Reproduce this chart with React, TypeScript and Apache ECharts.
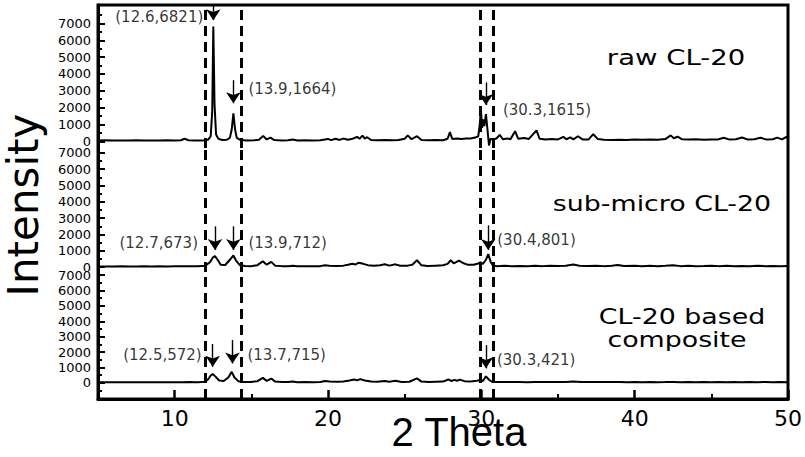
import React, { useEffect, useRef } from 'react';
import * as echarts from 'echarts';

// 2θ tick values
const X_TICKS = [10, 20, 30, 40, 50];
const X_MINOR = [15, 25, 35, 45];
const Y_TICKS = [0, 1000, 2000, 3000, 4000, 5000, 6000, 7000];
const DASH_X = [12.0, 14.37, 29.93, 30.8];

// [2θ, intensity]
const rawCL20 = [
  [5.0, 40], [5.5, 55], [6.0, 45], [6.5, 50], [7.0, 40], [7.5, 55], [8.0, 45], [8.5, 50], [9.0, 40], [9.5, 55],
  [10.0, 45], [10.4, 60], [10.65, 150], [10.9, 60], [11.3, 45], [11.7, 50], [12.0, 60], [12.2, 110], [12.35, 300],
  [12.45, 1800], [12.52, 6821], [12.6, 2200], [12.7, 400], [12.85, 150], [13.1, 80], [13.4, 90], [13.6, 200],
  [13.72, 700], [13.83, 1664], [13.94, 700], [14.05, 200], [14.3, 70], [14.7, 50], [15.2, 60], [15.5, 90],
  [15.77, 320], [16.0, 110], [16.25, 220], [16.5, 70], [17.0, 50], [17.4, 60], [17.7, 110], [18.0, 50], [18.5, 55],
  [19.0, 45], [19.5, 60], [20.0, 140], [20.2, 70], [20.5, 150], [20.75, 80], [21.0, 160], [21.3, 90], [21.6, 150],
  [21.9, 260], [22.05, 150], [22.25, 330], [22.4, 160], [22.55, 240], [22.8, 80], [23.2, 60], [23.7, 80], [24.2, 60],
  [24.6, 70], [25.0, 150], [25.2, 350], [25.45, 120], [25.8, 300], [26.1, 80], [26.6, 60], [27.0, 70], [27.5, 60],
  [27.8, 150], [27.95, 550], [28.1, 140], [28.4, 160], [28.7, 130], [29.0, 170], [29.3, 160], [29.6, 220],
  [29.8, 300], [29.9, 1000], [29.97, 1900], [30.05, 800], [30.12, 1300], [30.2, 900], [30.3, 1615], [30.4, 700],
  [30.5, -250], [30.6, 150], [30.8, 100], [31.0, 180], [31.2, 380], [31.4, 120], [31.7, 170], [31.9, 120],
  [32.2, 600], [32.4, 150], [32.8, 200], [33.1, 140], [33.6, 650], [33.8, 150], [34.2, 100], [34.6, 130],
  [35.0, 110], [35.35, 260], [35.55, 120], [35.8, 230], [36.0, 110], [36.3, 300], [36.6, 110], [37.0, 110],
  [37.3, 420], [37.6, 130], [38.0, 90], [38.5, 80], [39.0, 90], [39.5, 80], [40.0, 100], [40.5, 90], [41.0, 110],
  [41.5, 90], [42.0, 130], [42.35, 350], [42.55, 180], [42.8, 270], [43.1, 120], [43.5, 100], [44.0, 120],
  [44.5, 90], [45.0, 110], [45.4, 100], [45.8, 210], [46.2, 100], [46.6, 120], [47.0, 220], [47.4, 100],
  [47.8, 120], [48.2, 210], [48.6, 100], [49.0, 120], [49.3, 220], [49.6, 110], [49.9, 260], [50.0, 120],
];

const subMicroCL20 = [
  [5.0, 30], [5.5, 40], [6.0, 35], [6.5, 45], [7.0, 30], [7.5, 40], [8.0, 50], [8.5, 35], [9.0, 45], [9.5, 40],
  [10.0, 55], [10.5, 50], [11.0, 60], [11.5, 50], [12.0, 90], [12.3, 300], [12.5, 600], [12.63, 673], [12.8, 450],
  [13.0, 150], [13.3, 130], [13.6, 450], [13.83, 712], [14.0, 400], [14.25, 120], [14.6, 70], [15.0, 60],
  [15.4, 120], [15.75, 360], [16.0, 150], [16.3, 320], [16.55, 90], [17.0, 60], [17.4, 50], [17.7, 90], [18.0, 50],
  [18.5, 60], [19.0, 45], [19.5, 60], [19.8, 110], [20.1, 90], [20.5, 70], [21.0, 90], [21.3, 140], [21.6, 210],
  [21.8, 160], [22.0, 270], [22.3, 200], [22.6, 120], [23.0, 90], [23.4, 110], [23.7, 170], [24.0, 90],
  [24.4, 170], [24.7, 80], [25.2, 90], [25.5, 150], [25.8, 420], [26.1, 110], [26.5, 70], [27.0, 90], [27.5, 110],
  [27.8, 200], [28.0, 420], [28.2, 230], [28.35, 300], [28.55, 400], [28.8, 250], [29.1, 150], [29.5, 140],
  [29.8, 220], [29.95, 300], [30.1, 200], [30.3, 450], [30.45, 801], [30.6, 350], [30.75, 100], [31.0, 60],
  [31.5, 80], [32.0, 60], [32.5, 70], [33.0, 55], [33.5, 80], [34.0, 60], [34.5, 90], [35.0, 70], [35.5, 80],
  [36.0, 160], [36.4, 80], [37.0, 70], [37.5, 90], [38.0, 60], [38.5, 80], [38.9, 130], [39.3, 70], [40.0, 80],
  [40.5, 60], [41.0, 80], [41.5, 60], [42.0, 80], [42.5, 110], [43.0, 60], [43.5, 80], [44.0, 60], [44.5, 70],
  [45.0, 90], [45.5, 60], [46.0, 80], [46.5, 60], [47.0, 70], [47.5, 60], [48.0, 80], [48.5, 60], [49.0, 70],
  [49.5, 60], [50.0, 70],
];

const composite = [
  [5.0, 30], [5.5, 35], [6.0, 30], [6.5, 35], [7.0, 30], [7.5, 40], [8.0, 35], [8.5, 40], [9.0, 35], [9.5, 40],
  [10.0, 45], [10.5, 40], [11.0, 50], [11.5, 45], [12.0, 70], [12.2, 250], [12.35, 480], [12.48, 572], [12.65, 420],
  [12.9, 150], [13.2, 120], [13.5, 350], [13.72, 715], [13.9, 350], [14.15, 110], [14.5, 60], [15.0, 60],
  [15.4, 110], [15.75, 320], [16.0, 130], [16.3, 280], [16.55, 80], [17.0, 50], [17.4, 50], [17.7, 90], [18.0, 45],
  [18.5, 50], [19.0, 45], [19.5, 50], [19.8, 120], [20.1, 90], [20.6, 70], [21.0, 90], [21.4, 150], [21.7, 220],
  [21.9, 160], [22.1, 240], [22.4, 150], [22.8, 80], [23.2, 70], [23.7, 120], [24.0, 70], [24.4, 130], [24.8, 60],
  [25.3, 70], [25.8, 290], [26.1, 80], [26.6, 60], [27.0, 70], [27.5, 80], [27.85, 220], [28.05, 120],
  [28.25, 190], [28.45, 140], [28.6, 210], [28.9, 110], [29.3, 90], [29.7, 130], [29.95, 180], [30.1, 120],
  [30.3, 421], [30.5, 200], [30.7, 70], [31.0, 50], [31.5, 60], [32.0, 50], [32.5, 55], [33.0, 45], [33.5, 55],
  [34.0, 50], [34.5, 55], [35.0, 50], [35.5, 60], [36.0, 90], [36.5, 55], [37.0, 50], [37.5, 55], [38.0, 50],
  [38.5, 55], [39.0, 50], [39.5, 45], [40.0, 50], [40.5, 45], [41.0, 50], [41.5, 45], [42.0, 50], [42.5, 60],
  [43.0, 45], [43.5, 50], [44.0, 45], [44.5, 50], [45.0, 45], [45.5, 50], [46.0, 45], [46.5, 50], [47.0, 45],
  [47.5, 50], [48.0, 45], [48.5, 50], [49.0, 45], [49.5, 50], [50.0, 45],
];

// peak annotations: label, arrow x, arrow top / tip and label height (intensity units)
const rawMarks = [
  { text: '(12.6,6821)', x: 12.52, top: 8100, tip: 7200, ly: 7370, side: 'left', gap: 10 },
  { text: '(13.9,1664)', x: 13.83, top: 3630, tip: 2260, ly: 3090, side: 'right', gap: 15 },
  { text: '(30.3,1615)', x: 30.3, top: 3500, tip: 2150, ly: 1840, side: 'right', gap: 17 },
];
const subMicroMarks = [
  { text: '(12.7,673)', x: 12.63, top: 2500, tip: 1050, ly: 1500, side: 'left', gap: 17 },
  { text: '(13.9,712)', x: 13.83, top: 2500, tip: 1050, ly: 1500, side: 'right', gap: 15 },
  { text: '(30.4,801)', x: 30.45, top: 2560, tip: 1050, ly: 1650, side: 'right', gap: 9 },
];
const compositeMarks = [
  { text: '(12.5,572)', x: 12.48, top: 2520, tip: 1040, ly: 1800, side: 'left', gap: 11 },
  { text: '(13.7,715)', x: 13.77, top: 2780, tip: 1260, ly: 1800, side: 'right', gap: 15 },
  { text: '(30.3,421)', x: 30.3, top: 2450, tip: 940, ly: 1480, side: 'right', gap: 11 },
];

const PANELS = [
  {
    data: rawCL20, marks: rawMarks, top: 5, height: 143, min: -400, max: 8100,
    minor: [500, 1500, 2500, 3500, 4500, 5500, 6500, 7500],
  },
  {
    data: subMicroCL20, marks: subMicroMarks, top: 148, height: 124, min: -300, max: 7300,
    minor: [500, 1500, 2500, 3500, 4500, 5500, 6500],
  },
  {
    data: composite, marks: compositeMarks, top: 272, height: 127, min: -1050, max: 7200,
    minor: [-500, 500, 1500, 2500, 3500, 4500, 5500, 6500],
  },
];

const BLACK = '#000';
const FONT = 'DejaVu Sans';
const LEFT = 98;
const RIGHT = 17;

const App: React.FC = () => {
  const divEL = useRef<HTMLDivElement>(null);

  useEffect(() => {
    const instance = echarts.init(divEL.current as any, undefined, { renderer: 'svg' });

    const grid: any[] = PANELS.map((p) => ({
      left: LEFT, right: RIGHT, top: p.top, height: p.height, outerBoundsMode: 'none',
    }));
    // outer frame around the three stacked panels
    grid.push({
      left: LEFT, right: RIGHT, top: 5, height: 394, outerBoundsMode: 'none',
      show: true, borderColor: BLACK, borderWidth: 3, backgroundColor: 'transparent',
    });

    const xAxis: any[] = [
      { gridIndex: 0, type: 'value', min: 5, max: 50, show: false },
      { gridIndex: 1, type: 'value', min: 5, max: 50, show: false },
      {
        gridIndex: 2, type: 'value', min: 5, max: 50, position: 'bottom',
        axisLine: { show: true, onZero: false, lineStyle: { color: BLACK, width: 3 } },
        axisTick: { inside: true, length: 9, customValues: X_TICKS, lineStyle: { color: BLACK, width: 2.5 } },
        axisLabel: { customValues: X_TICKS, fontSize: 22, fontFamily: FONT, color: BLACK, margin: 8 },
        splitLine: { show: false },
      },
      {
        gridIndex: 2, type: 'value', min: 5, max: 50, position: 'bottom',
        axisLine: { show: false, onZero: false },
        axisTick: { inside: true, length: 5, customValues: X_MINOR, lineStyle: { color: BLACK, width: 2 } },
        axisLabel: { show: false }, splitLine: { show: false },
      },
      { gridIndex: 3, type: 'value', min: 5, max: 50, show: false },
    ];

    const yAxis: any[] = [];
    PANELS.forEach((p, i) => {
      yAxis.push({
        gridIndex: i, type: 'value', min: p.min, max: p.max, position: 'left',
        axisLine: { show: true, onZero: false, lineStyle: { color: BLACK, width: 3 } },
        axisTick: { inside: true, length: 7, customValues: Y_TICKS, lineStyle: { color: BLACK, width: 2 } },
        axisLabel: {
          customValues: Y_TICKS, fontSize: 13, fontFamily: FONT, color: BLACK, margin: 7,
          formatter: (v: number) => String(v),
        },
        splitLine: { show: false },
      });
      yAxis.push({
        gridIndex: i, type: 'value', min: p.min, max: p.max, position: 'left',
        axisLine: { show: false, onZero: false },
        axisTick: { inside: true, length: 4, customValues: p.minor, lineStyle: { color: BLACK, width: 2 } },
        axisLabel: { show: false }, splitLine: { show: false },
      });
    });
    yAxis.push({ gridIndex: 3, type: 'value', min: 0, max: 1, show: false });

    const series: any[] = [];
    PANELS.forEach((p, i) => {
      series.push({
        type: 'line',
        xAxisIndex: i,
        yAxisIndex: i * 2,
        data: p.data,
        symbol: 'none',
        lineStyle: { color: BLACK, width: 2 },
        markLine: {
          silent: true,
          symbol: 'none',
          label: { show: false },
          lineStyle: { color: BLACK, width: 3, type: [10, 6] },
          data: DASH_X.map((x) => ({ xAxis: x })),
        },
      });
      series.push({
        type: 'scatter',
        xAxisIndex: i,
        yAxisIndex: i * 2,
        symbolSize: 0,
        data: p.marks.map((m) => ({
          name: m.text,
          value: [m.x, m.ly],
          label: { position: m.side, distance: m.gap },
        })),
        label: { show: true, formatter: '{b}', fontSize: 15, fontFamily: FONT, color: BLACK },
        markLine: {
          silent: true,
          symbol: ['none', 'arrow'],
          symbolSize: 11,
          label: { show: false },
          lineStyle: { color: BLACK, width: 1.4, type: 'solid' },
          data: p.marks.map((m) => [{ coord: [m.x, m.top] }, { coord: [m.x, m.tip] }]),
        },
      });
    });

    const text = (t: string, x: number, y: number, font: string, extra: any = {}) => ({
      type: 'text',
      x,
      y,
      ...extra,
      style: { text: t, font, fill: BLACK, textAlign: 'center', textVerticalAlign: 'middle' },
    });
    const panelFont = `22px "${FONT}"`;

    instance.setOption({
      animation: false,
      backgroundColor: '#fff',
      grid,
      xAxis,
      yAxis,
      series,
      graphic: [
        text('raw CL-20', 676, 57, panelFont, { scaleX: 1.25 }),
        text('sub-micro CL-20', 662, 203, panelFont, { scaleX: 1.22 }),
        text('CL-20 based', 682, 316, panelFont, { scaleX: 1.22 }),
        text('composite', 677, 339, panelFont, { scaleX: 1.22 }),
        text('Intensity', 23, 205, `42px "${FONT}"`, { rotation: Math.PI / 2 }),
        text('2 Theta', 459, 432, '40px "Liberation Sans"'),
      ],
    });

    return () => {
      instance.dispose();
    };
  }, []);

  return <div ref={divEL} style={{ position: 'fixed', left: 0, top: 0, width: 805, height: 457 }}></div>;
};

export default App;
